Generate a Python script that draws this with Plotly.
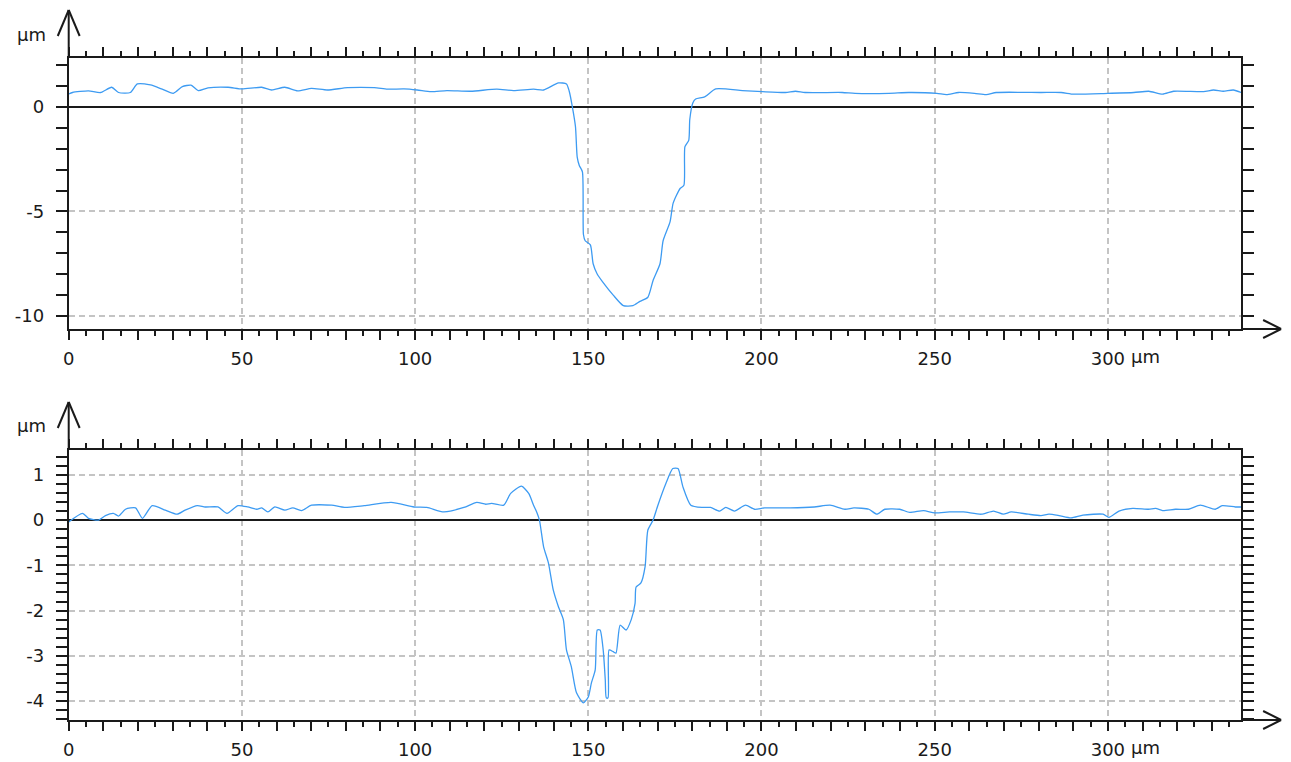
import plotly.graph_objects as go

# ---- profile data (lateral position in µm, height in µm) ----
x_top = [0.0, 1.1, 5.7, 9.2, 12.4, 14.4, 17.8, 19.8, 23.6, 27.0, 30.2, 32.8, 35.3, 37.4,
         40.2, 46.0, 50.0, 55.7, 58.6, 62.4, 66.1, 70.1, 74.7, 80.5, 88.2, 92.0, 96.8,
         100.6, 104.6, 109.2, 116.1, 123.6, 128.4, 134.2, 137.1, 141.4, 143.7, 144.5,
         145.4, 146.3, 146.8, 147.4, 148.3, 148.6, 149.1, 150.6, 151.4, 152.6, 154.3,
         157.2, 160.1, 162.9, 164.9, 167.2, 168.7, 170.7, 171.6, 173.6, 174.5, 176.5,
         177.6, 177.9, 179.0, 179.3, 180.2, 181.0, 183.6, 186.8, 194.5, 200.3, 206.9,
         209.8, 212.6, 223.3, 227.0, 236.8, 242.5, 250.6, 253.4, 256.9, 261.5, 264.9,
         267.8, 280.7, 286.5, 290.2, 300.0, 307.5, 311.8, 315.8, 319.0, 327.6, 330.5,
         333.3, 336.2, 338.5]
z_top = [0.62, 0.69, 0.77, 0.69, 0.94, 0.69, 0.69, 1.10, 1.05, 0.85, 0.65, 0.97, 1.04, 0.78,
         0.91, 0.94, 0.86, 0.94, 0.81, 0.94, 0.77, 0.89, 0.81, 0.92, 0.92, 0.85, 0.86,
         0.81, 0.73, 0.78, 0.75, 0.85, 0.78, 0.85, 0.81, 1.15, 1.10, 0.75,
         0.00, -0.95, -2.40, -2.80, -3.10, -6.10, -6.40, -6.60, -7.50, -8.00, -8.40,
         -9.00, -9.50, -9.50, -9.30, -9.10, -8.30, -7.50, -6.40, -5.50, -4.60, -3.90,
         -3.75, -1.90, -1.60, -0.60, 0.20, 0.38, 0.48, 0.86, 0.78, 0.73, 0.69,
         0.75, 0.69, 0.69, 0.65, 0.65, 0.69, 0.65, 0.59, 0.69, 0.65, 0.59,
         0.69, 0.69, 0.69, 0.61, 0.65, 0.69, 0.75, 0.61, 0.75, 0.73, 0.81,
         0.75, 0.81, 0.69]

x_bot = [0.0, 4.0, 5.7, 8.6, 10.6, 12.9, 14.4, 16.4, 19.3, 21.3, 24.1, 27.9, 31.3, 33.6,
         37.1, 39.4, 43.1, 45.7, 48.9, 51.7, 54.3, 55.7, 57.5, 59.5, 62.4, 64.7, 67.2,
         70.1, 75.9, 79.6, 85.3, 93.1, 99.7, 103.4, 108.3, 114.1, 117.8, 120.4, 122.1,
         125.6, 127.6, 130.7, 132.8, 134.2, 135.1, 135.9, 137.1, 138.5, 139.9, 141.4,
         142.8, 143.7, 145.1, 146.6, 148.6, 150.0, 150.9, 152.0, 152.6, 153.4, 154.3,
         154.9, 155.2, 155.7, 156.0, 157.2, 158.0, 159.2, 160.9, 162.4, 163.5, 163.8,
         165.2, 166.4, 167.2, 168.7, 170.1, 172.4, 174.4, 175.9, 177.3, 179.6, 183.0,
         185.3, 187.9, 189.7, 192.2, 195.4, 198.0, 200.9, 208.3, 215.2, 219.8, 224.1,
         226.7, 231.0, 233.3, 235.6, 239.9, 242.8, 246.8, 250.0, 254.3, 258.3, 263.5,
         267.0, 269.8, 272.1, 277.0, 280.7, 283.0, 285.9, 289.4, 292.8, 298.6, 300.3,
         303.2, 307.2, 311.8, 313.8, 315.8, 319.5, 323.3, 326.7, 331.0, 333.0, 336.8,
         338.5]
z_bot = [-0.04, 0.15, 0.04, 0.00, 0.10, 0.15, 0.09, 0.24, 0.27, 0.04, 0.32, 0.22, 0.13, 0.22,
         0.32, 0.29, 0.29, 0.15, 0.32, 0.29, 0.24, 0.27, 0.18, 0.29, 0.22, 0.27, 0.21,
         0.33, 0.33, 0.28, 0.32, 0.39, 0.29, 0.28, 0.18, 0.28, 0.39, 0.35, 0.37,
         0.33, 0.59, 0.75, 0.59, 0.33, 0.18, 0.00, -0.59, -0.95, -1.55, -1.92,
         -2.20, -2.87, -3.24, -3.82, -4.04, -3.91, -3.60, -3.31, -2.43, -2.43, -2.87,
         -3.53, -3.93, -3.93, -2.87, -2.91, -2.94, -2.32, -2.43, -2.20, -1.84, -1.48,
         -1.39, -1.03, -0.22, 0.00, 0.33, 0.81, 1.14, 1.14, 0.74, 0.33, 0.28,
         0.28, 0.20, 0.28, 0.20, 0.33, 0.24, 0.27, 0.27, 0.29, 0.33, 0.24,
         0.27, 0.24, 0.13, 0.24, 0.24, 0.17, 0.21, 0.16, 0.18, 0.18, 0.13,
         0.20, 0.13, 0.18, 0.13, 0.10, 0.13, 0.10, 0.05, 0.11, 0.13, 0.06,
         0.20, 0.26, 0.24, 0.26, 0.21, 0.24, 0.24, 0.33, 0.24, 0.32, 0.29,
         0.29]

# ---- tick definitions ----
x_labeled = [0, 50, 100, 150, 200, 250, 300]
x_label_text = ["0", "50", "100", "150", "200", "250", "300"]
x_tens = [v for v in range(10, 331, 10) if v % 50 != 0]
x_fives = list(range(5, 336, 10))

y_top_vals = [-10, -5, 0]
y_top_text = ["-10", "-5", "0"]
y_bot_vals = [-4, -3, -2, -1, 0, 1]
y_bot_text = ["-4", "-3", "-2", "-1", "0", "1"]

X_RANGE = [0, 338.5]
Y_TOP_RANGE = [-10.62, 2.34]
Y_BOT_RANGE = [-4.42, 1.55]

W, H = 1291, 762
INK = "#1a1a1a"
LINE = "#3d9bf2"
GRID = "#c4c4c4"
FONT = dict(family="DejaVu Sans", size=18, color=INK)


def px(x):
    return x / W


def py(y):
    return 1 - y / H


XD = [px(63), px(1241)]
TOP_D = [py(329), py(58)]
BOT_D = [py(720), py(450)]

fig = go.Figure()
# profiles are plotted on the fine-tick overlay axes (same range as the labeled axes)
fig.add_trace(go.Scatter(x=x_top, y=z_top, mode="lines", xaxis="x3", yaxis="y",
                         line=dict(color=LINE, width=1.3, shape="spline", smoothing=0.6),
                         hoverinfo="x+y"))
fig.add_trace(go.Scatter(x=x_bot, y=z_bot, mode="lines", xaxis="x4", yaxis="y2",
                         line=dict(color=LINE, width=1.3, shape="spline", smoothing=0.6),
                         hoverinfo="x+y"))


def x_axis(anchor):
    # labeled axis: labels + dashed grid every 50, long ticks every 10
    return dict(domain=XD, anchor=anchor, range=X_RANGE, tickmode="array",
                tickvals=x_labeled, ticktext=x_label_text, ticks="outside", ticklen=9,
                tickwidth=2, tickcolor=INK, showline=True, linewidth=2, linecolor=INK,
                mirror="allticks", showgrid=True, gridcolor=GRID, gridwidth=1.5,
                griddash="6px,4px", zeroline=False,
                ticklabelstandoff=3, tickfont=FONT,
                minor=dict(tickvals=x_tens, ticks="outside", ticklen=9, tickwidth=2,
                           tickcolor=INK, showgrid=False))


def x_fine_axis(overlay, anchor):
    # overlay axis carrying the short ticks every 5
    return dict(domain=XD, anchor=anchor, overlaying=overlay, range=X_RANGE,
                tickmode="array", tickvals=x_fives, ticks="outside", ticklen=5,
                tickwidth=1.5, tickcolor=INK, showticklabels=False,
                showline=True, linewidth=2, linecolor=INK, mirror="allticks",
                zeroline=False, showgrid=False)


def y_axis(domain, rng, vals, text, minor_step, anchor):
    return dict(domain=domain, anchor=anchor, range=rng, tickmode="array",
                tickvals=vals, ticktext=text, ticks="outside", ticklen=11, tickwidth=2,
                tickcolor=INK, showline=True, linewidth=2, linecolor=INK,
                mirror="allticks", showgrid=True, gridcolor=GRID, gridwidth=1.5,
                griddash="6px,4px", zeroline=True, zerolinecolor=INK, zerolinewidth=2,
                ticklabelstandoff=8, tickfont=FONT,
                minor=dict(dtick=minor_step, tick0=0, ticks="outside", ticklen=4,
                           tickwidth=1.5, tickcolor=INK, showgrid=False))


fig.update_layout(
    width=W, height=H,
    margin=dict(l=0, r=0, t=0, b=0),
    paper_bgcolor="white", plot_bgcolor="white",
    showlegend=False,
    font=FONT,
    xaxis=x_axis("y"),
    yaxis=y_axis(TOP_D, Y_TOP_RANGE, y_top_vals, y_top_text, 1, "x"),
    xaxis2=x_axis("y2"),
    yaxis2=y_axis(BOT_D, Y_BOT_RANGE, y_bot_vals, y_bot_text, 0.2, "x2"),
    xaxis3=x_fine_axis("x", "y"),
    xaxis4=x_fine_axis("x2", "y2"),
)

# unit labels
for ycen in (35, 425):
    fig.add_annotation(text="µm", xref="paper", yref="paper", x=px(42), y=py(ycen),
                       xanchor="right", yanchor="middle", showarrow=False, font=FONT)
for xa, ya in (("x", "y"), ("x2", "y2")):
    fig.add_annotation(text="µm", xref=xa, yref=f"{ya} domain", x=300, y=0,
                       xshift=21, yshift=-15, xanchor="left", yanchor="top",
                       showarrow=False, font=FONT)

# arrowheads at the axis ends
shapes = []


def seg(x0, y0, x1, y1):
    shapes.append(dict(type="line", xref="paper", yref="paper",
                       x0=px(x0), y0=py(y0), x1=px(x1), y1=py(y1),
                       line=dict(color=INK, width=2)))


for top, bottom in ((58, 329), (450, 720)):
    tip = top - 48
    seg(63, top, 63, tip)
    seg(52, tip + 26, 63, tip)
    seg(74, tip + 26, 63, tip)
    seg(1241, bottom, 1281, bottom)
    seg(1263, bottom - 9, 1281, bottom)
    seg(1263, bottom + 9, 1281, bottom)

fig.update_layout(shapes=shapes)

fig.write_html("out.html")
